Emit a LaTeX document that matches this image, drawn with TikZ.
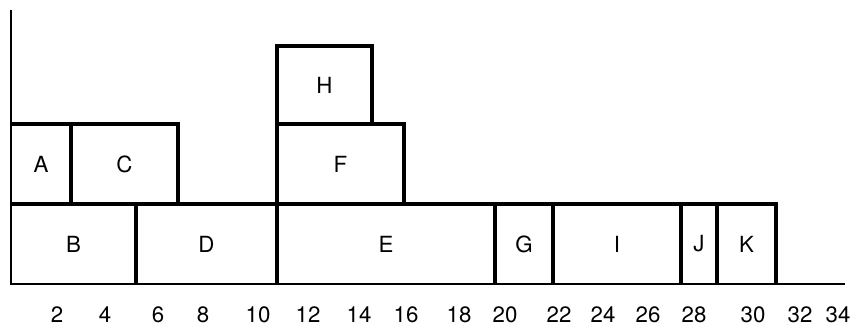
\documentclass[tikz,border=0pt]{standalone}
\usepackage{fontspec}
\setmainfont{TeX Gyre Heros}
\begin{document}
\begin{tikzpicture}[x=0.03cm, y=-0.03cm,
    box/.style={line width=2.8pt, line join=miter},
    axis/.style={line width=1.1pt},
    lbl/.style={font=\fontsize{19}{22}\selectfont}]
    \useasboundingbox (0,0) rectangle (852,327);
    % Axes
    \draw[axis] (11,10) -- (11,284) -- (845,284);
    % Rang du bas
    \draw[box] (11,204) -- (136,204) -- (136,284);
    \draw[box] (136,204) -- (277,204) -- (277,284);
    \draw[box] (277,204) -- (495,204) -- (495,284);
    \draw[box] (495,204) -- (553,204) -- (553,284);
    \draw[box] (553,204) -- (681,204) -- (681,284);
    \draw[box] (681,204) -- (717,204) -- (717,284);
    \draw[box] (717,204) -- (776,204) -- (776,284);
    % Rang du milieu
    \draw[box] (11,124) -- (71,124) -- (71,204);
    \draw[box] (71,124) -- (178,124) -- (178,204);
    \draw[box] (277,204) |- (404,124) -- (404,204);
    % Rang du haut
    \draw[box] (277,124) |- (372,46) -- (372,124);
    % Labels
    \node[lbl] (B) at (73.5,244) {B};
    \node[lbl] (D) at (206.5,244) {D};
    \node[lbl] (E) at (386,244) {E};
    \node[lbl] (G) at (524,244) {G};
    \node[lbl] (I) at (617,244) {I};
    \node[lbl] (J) at (699,244) {J};
    \node[lbl] (K) at (746.5,244) {K};
    \node[lbl] (A) at (41,164) {A};
    \node[lbl] (C) at (124.5,164) {C};
    \node[lbl] (F) at (340.5,164) {F};
    \node[lbl] (H) at (324.5,85) {H};
    % Graduations
    \foreach \n/\xpos in {2/57, 4/105, 6/158, 8/203, 10/258, 12/308, 14/359,
        16/406, 18/459, 20/505, 22/559, 24/603, 26/648, 28/694, 30/753,
        32/800, 34/838}
        \node[lbl] (t\n) at (\xpos,315) {\n};
\end{tikzpicture}
\end{document}
